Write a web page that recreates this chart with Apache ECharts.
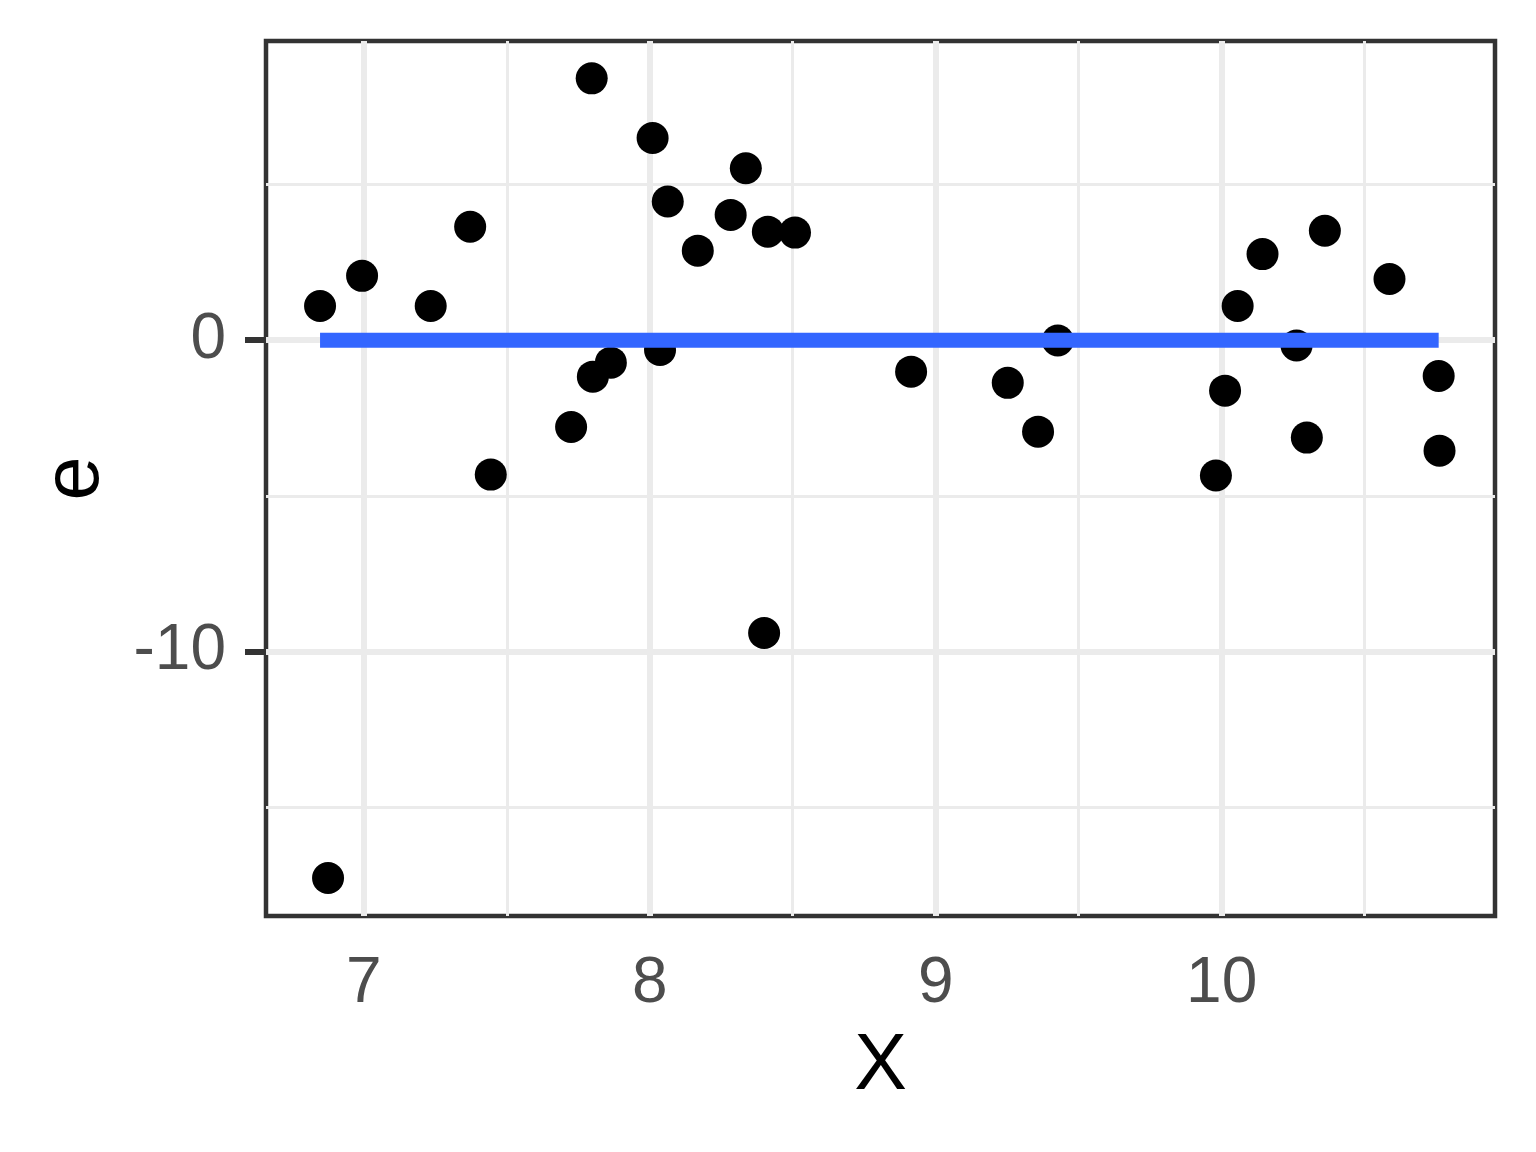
<!DOCTYPE html>
<html>
<head>
<meta charset="utf-8">
<script src="https://cdn.jsdelivr.net/npm/echarts@6/dist/echarts.min.js"></script>
<style>
  html, body { margin: 0; padding: 0; background: #fff; }
  #main { width: 1536px; height: 1152px; }
</style>
</head>
<body>
<div id="main"></div>
<script>
// residuals e against X
var x_vals = [6.847, 6.875, 6.994, 7.234, 7.372, 7.444, 7.725, 7.797, 7.801, 7.864,
              8.010, 8.036, 8.063, 8.168, 8.283, 8.336, 8.400, 8.413, 8.508, 8.914,
              9.252, 9.358, 9.427, 9.980, 10.012, 10.056, 10.143, 10.262, 10.298, 10.361,
              10.587, 10.759, 10.762];
var e_vals = [1.10, -17.29, 2.07, 1.10, 3.65, -4.32, -2.79, 8.42, -1.17, -0.72,
              6.50, -0.31, 4.46, 2.88, 4.03, 5.53, -9.41, 3.49, 3.46, -1.01,
              -1.37, -2.94, -0.01, -4.35, -1.62, 1.10, 2.77, -0.17, -3.13, 3.52,
              1.97, -1.15, -3.55];

// fitted line (horizontal at 0)
var fit_x = [6.847, 10.759];
var fit_y = [0, 0];

// axis ticks
var x_ticks = [7, 8, 9, 10];
var x_minor = [7.5, 8.5, 9.5, 10.5];
var y_ticks = [-10, 0];
var y_minor = [-15, -5, 5];

var chart = echarts.init(document.getElementById('main'));

var points = x_vals.map(function (x, i) { return [x, e_vals[i]]; });
var fit_data = fit_x.map(function (x, i) { return [x, fit_y[i]]; });

var grid_lines = [];
x_ticks.forEach(function (v) {
    grid_lines.push({xAxis: v, lineStyle: {width: 6}});
});
x_minor.forEach(function (v) {
    grid_lines.push({xAxis: v, lineStyle: {width: 3}});
});
y_ticks.forEach(function (v) {
    grid_lines.push({yAxis: v, lineStyle: {width: 6}});
});
y_minor.forEach(function (v) {
    grid_lines.push({yAxis: v, lineStyle: {width: 3}});
});

var font = '"Liberation Sans", Arial, sans-serif';

var option = {
    backgroundColor: '#ffffff',
    animation: false,
    grid: {
        left: 266, top: 41, right: 41, bottom: 236,
        show: true,
        borderColor: '#333333',
        borderWidth: 4.5,
        backgroundColor: 'transparent'
    },
    xAxis: {
        type: 'value',
        min: 6.658,
        max: 10.956,
        name: 'X',
        nameLocation: 'middle',
        nameGap: 112,
        nameTextStyle: {fontSize: 79, color: '#000', fontFamily: font},
        axisLine: {show: false},
        splitLine: {show: false},
        axisTick: {
            show: true, length: 21, customValues: x_ticks,
            lineStyle: {color: '#333333', width: 6}
        },
        axisLabel: {
            customValues: x_ticks, margin: 36,
            fontSize: 64, color: '#4D4D4D', fontFamily: font
        }
    },
    yAxis: {
        type: 'value',
        min: -18.51,
        max: 9.62,
        name: 'e',
        nameLocation: 'middle',
        nameRotate: 90,
        nameGap: 150,
        nameTextStyle: {fontSize: 79, color: '#000', fontFamily: font},
        axisLine: {show: false},
        splitLine: {show: false},
        axisTick: {
            show: true, length: 21, customValues: y_ticks,
            lineStyle: {color: '#333333', width: 6}
        },
        axisLabel: {
            customValues: y_ticks, margin: 40,
            fontSize: 64, color: '#4D4D4D', fontFamily: font
        }
    },
    series: [
        {
            // grid lines, drawn under everything else
            type: 'line',
            data: [],
            z: 1,
            silent: true,
            markLine: {
                z: 1,
                silent: true,
                animation: false,
                symbol: ['none', 'none'],
                label: {show: false},
                lineStyle: {color: '#EBEBEB', type: 'solid'},
                emphasis: {disabled: true},
                data: grid_lines
            }
        },
        {
            type: 'scatter',
            data: points,
            z: 3,
            symbol: 'circle',
            symbolSize: 32,
            itemStyle: {color: '#000000', opacity: 1}
        },
        {
            type: 'line',
            data: fit_data,
            z: 4,
            symbol: 'none',
            lineStyle: {color: '#3366FF', width: 15, cap: 'butt'}
        }
    ]
};

chart.setOption(option);
</script>
</body>
</html>
